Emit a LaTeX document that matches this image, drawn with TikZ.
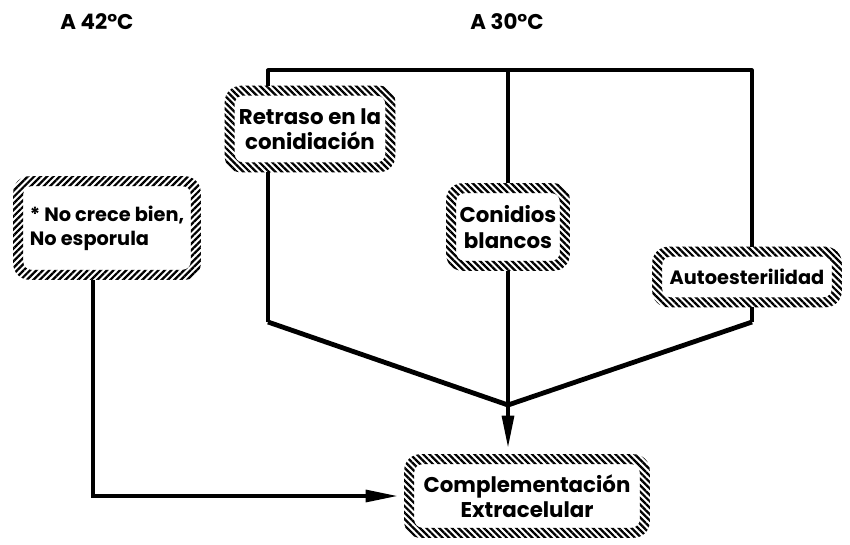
\documentclass[tikz,border=0pt]{standalone}
\usepackage{fontspec}
\setmainfont{Poppins}
\usetikzlibrary{arrows.meta,patterns.meta}

\tikzset{
  box/.style={align=center, inner sep=0pt, font=\bfseries\fontsize{16}{19}\selectfont},
  smallbox/.style={box, font=\bfseries\fontsize{14.5}{18}\selectfont},
  link/.style={line width=2.4pt, line join=round},
  mergeline/.style={line width=3.6pt, line join=round},
  arr/.style={line width=2.4pt, -{Triangle[length=24pt,width=9pt]}, shorten >=5pt}
}

\begin{document}
\begin{tikzpicture}[x=0.75pt, y=-0.75pt]
  \useasboundingbox (0,0) rectangle (850,544);

  \node[box] (t42) at (97,22) {A 42°C};
  \node[box] (t30) at (507,22) {A 30°C};

  \node[box, minimum width=170*0.75pt, minimum height=86*0.75pt] (ret) at (310,129) {Retraso en la\\conidiación};
  \node[box, minimum width=123*0.75pt, minimum height=87*0.75pt] (con) at (508,227) {Conidios\\blancos};
  \node[smallbox, minimum width=189*0.75pt, minimum height=60*0.75pt] (aut) at (747,277) {Autoesterilidad};
  \node[smallbox, minimum width=187*0.75pt, minimum height=103*0.75pt, align=left] (noc) at (107,228) {* No crece bien,\\No esporula};
  \node[box, minimum width=245*0.75pt, minimum height=83*0.75pt] (comp) at (527,496) {Complementación\\Extracelular};

  \foreach \n/\a in {ret/-45, con/-45, aut/-45, noc/45, comp/-45}{
    \fill[pattern={Lines[angle=\a,distance=3.4pt,line width=1.7pt]}, even odd rule, rounded corners=12pt]
      (\n.south west) rectangle (\n.north east)
      [rounded corners=6pt] ([shift={(7.5pt,7.5pt)}]\n.south west) rectangle ([shift={(-7.5pt,-7.5pt)}]\n.north east);
  }

  \coordinate (tl) at (268,70);
  \coordinate (tr) at (752,70);
  \coordinate (bl) at (268,322);
  \coordinate (br) at (752,322);
  \coordinate (m) at (508,405);
  \coordinate (lc) at (93,496);

  \draw[link] (ret.north -| tl) -- (tl) -- (tr) -- (aut.north -| tr);
  \draw[link] (con.north) -- (con.north |- tl);
  \draw[link] (ret.south -| bl) -- (bl);
  \draw[link] (aut.south -| br) -- (br);
  \draw[mergeline] (bl) -- (m) -- (br);
  \draw[arr] (con.south) -- (comp.north -| m);
  \draw[arr] (noc.south -| lc) -- (lc) -- (comp.west);
\end{tikzpicture}
\end{document}
